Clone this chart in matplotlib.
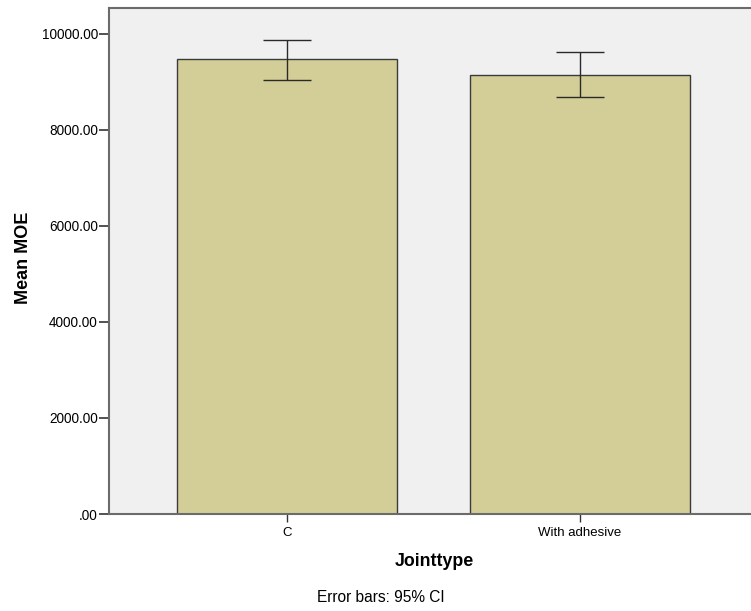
import numpy as np
import matplotlib.pyplot as plt

plt.rcParams['font.family'] = ['Liberation Sans', 'DejaVu Sans']

# data
categories = ['C', 'With adhesive']
mean_moe = [9470, 9148]
ci_low = [9048, 8681]
ci_high = [9880, 9620]

fig = plt.figure(figsize=(7.51, 6.11), dpi=100)
ax = fig.add_axes([109 / 751, 97 / 611, 642 / 751, 506 / 611])
ax.set_facecolor('#F0F0F0')

x = np.arange(len(categories))
means = np.array(mean_moe)
yerr = [means - np.array(ci_low), np.array(ci_high) - means]

ax.bar(x, means, width=0.75, color='#D3CE97', edgecolor='#3a3a3a', linewidth=1.0, zorder=2)
ax.errorbar(x, means, yerr=yerr, fmt='none', ecolor='#2a2a2a', elinewidth=1.0,
            capsize=17, capthick=1.0, zorder=3)

ax.set_xlim(-0.608, 1.584)
ax.set_ylim(0, 10540)
ax.set_xticks(x)
ax.set_xticklabels(categories, fontsize=9.5)
yt = [0, 2000, 4000, 6000, 8000, 10000]
ax.set_yticks(yt)
ax.set_yticklabels(['.00'] + ['%.2f' % v for v in yt[1:]], fontsize=9.8)
ax.tick_params(axis='y', length=7, width=1.2, color='#333333', pad=1)
ax.tick_params(axis='x', length=6, width=1.0, color='#333333', pad=3)

for side in ['left', 'bottom', 'top']:
    ax.spines[side].set_color('#6b6b6b')
    ax.spines[side].set_linewidth(1.5)
ax.spines['right'].set_visible(False)

ax.set_ylabel('Mean MOE', fontsize=13, fontweight='bold', va='center')
ax.yaxis.set_label_coords(-86 / 642, 0.506)
ax.set_xlabel('Jointtype', fontsize=12.8, fontweight='bold', va='center')
ax.xaxis.set_label_coords(0.506, -47 / 506)
fig.text(381 / 751, 1 - 598 / 611, 'Error bars: 95% CI', fontsize=11.2, ha='center', va='center')

fig.savefig('out.png', dpi=100)
